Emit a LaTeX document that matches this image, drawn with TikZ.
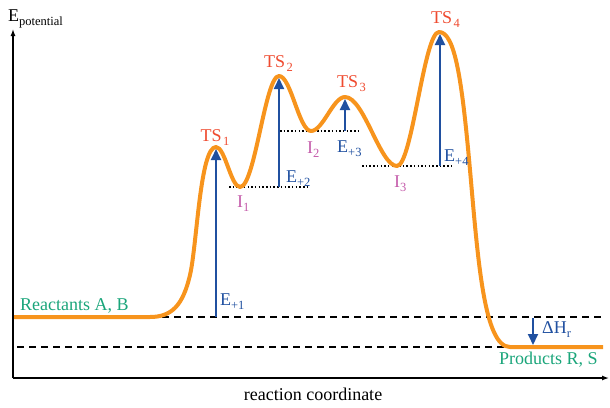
\documentclass[tikz,border=0pt]{standalone}
\usepackage{fontspec}
\setmainfont{Liberation Serif}
\usetikzlibrary{arrows.meta}
\definecolor{curveor}{HTML}{F7941D}
\definecolor{tsred}{HTML}{EF4B30}
\definecolor{imag}{HTML}{C45BAA}
\definecolor{eblue}{HTML}{2050A0}
\definecolor{rgreen}{HTML}{1AA57A}
\newcommand\lowsub[1]{\raisebox{-4.5pt}{\fontsize{12.5}{13}\selectfont #1}}
\begin{document}
\begin{tikzpicture}[x=1pt,y=-1pt,
  lbl/.style={anchor=base west, inner sep=0pt, font=\fontsize{18}{20}\selectfont},
  tslbl/.style={lbl, text=tsred},
  ilbl/.style={lbl, text=imag},
  elbl/.style={lbl, text=eblue},
  splbl/.style={lbl, text=rgreen},
  earrow/.style={draw=eblue, line width=1.8pt, -{Triangle[length=11pt,width=10pt]}},
  axisline/.style={line width=1.3pt, -{Latex[length=7pt,width=5pt]}},
  levelline/.style={line width=1.4pt, dash pattern=on 7pt off 5pt},
  dotline/.style={line width=1.5pt, dash pattern=on 1.5pt off 2.2pt},
  energycurve/.style={draw=curveor, line width=4pt, line join=round}]
\useasboundingbox (0,0) rectangle (610,407);

% key coordinates
\coordinate (origin) at (13,378);
\coordinate (ytop) at (13,29);
\coordinate (xend) at (609,378);
\coordinate (start) at (14,317);
\coordinate (rbase) at (150,317);
\coordinate (ts1) at (216,147);
\coordinate (i1) at (240,187);
\coordinate (ts2) at (279,76);
\coordinate (i2) at (311,131);
\coordinate (ts3) at (345,97);
\coordinate (i3) at (397,166);
\coordinate (ts4) at (439,32);
\coordinate (pend) at (603,347);

% axes
\draw[axisline] (origin) -- (ytop);
\draw[axisline] (origin) -- (xend);

% energy levels
\coordinate (lvlaL) at (150,317);
\coordinate (lvlaR) at (602,317);
\coordinate (lvlbL) at (17,347);
\coordinate (lvlbR) at (602,347);
\draw[levelline] (lvlaL) -- (lvlaR);
\draw[levelline] (lvlbL) -- (lvlbR);

\coordinate (d1L) at (229,187); \coordinate (d1R) at (307,187);
\coordinate (d2L) at (280,131); \coordinate (d2R) at (358,131);
\coordinate (d3L) at (362,166); \coordinate (d3R) at (453,166);
\draw[dotline] (d1L) -- (d1R);
\draw[dotline] (d2L) -- (d2R);
\draw[dotline] (d3L) -- (d3R);

% curve
\draw[energycurve] (start) -- (rbase)
  .. controls (172,317) and (183,305) .. (190,275)
  .. controls (197,245) and (200,147) .. (ts1)
  .. controls (225,147) and (231,187) .. (i1)
  .. controls (255,187) and (265,76) .. (ts2)
  .. controls (291,76) and (299,131) .. (i2)
  .. controls (323,131) and (333,97) .. (ts3)
  .. controls (364,97) and (380,166) .. (i3)
  .. controls (412,166) and (424,32) .. (ts4)
  .. controls (455,32) and (462,80) .. (470,170)
  .. controls (478,260) and (484,347) .. (510,347)
  -- (pend);

% activation arrows
\coordinate (e1b) at (216,317); \coordinate (e1t) at (216,149);
\coordinate (e2b) at (279,187); \coordinate (e2t) at (279,78);
\coordinate (e3b) at (345,131); \coordinate (e3t) at (345,99);
\coordinate (e4b) at (440,166); \coordinate (e4t) at (440,34);
\coordinate (hb) at (533,318); \coordinate (ht) at (533,345);
\draw[earrow] (e1b) -- (e1t);
\draw[earrow] (e2b) -- (e2t);
\draw[earrow] (e3b) -- (e3t);
\draw[earrow] (e4b) -- (e4t);
\draw[earrow] (hb) -- (ht);

% labels
\node[lbl] (ylab) at (8,21) {E\lowsub{potential}};
\node[lbl, anchor=base] (xlab) at (313,400) {reaction coordinate};
\node[tslbl] (lts1) at (200.5,141) {TS\kern1.5pt\lowsub{1}};
\node[tslbl] (lts2) at (264,67) {TS\kern1.5pt\lowsub{2}};
\node[tslbl] (lts3) at (337,87) {TS\kern1.5pt\lowsub{3}};
\node[tslbl] (lts4) at (431,23) {TS\kern1.5pt\lowsub{4}};
\node[ilbl] (li1) at (237,207) {I\lowsub{1}};
\node[ilbl] (li2) at (307,153) {I\lowsub{2}};
\node[ilbl] (li3) at (394,187) {I\lowsub{3}};
\node[elbl] (le1) at (220,305) {E\lowsub{+1}};
\node[elbl] (le2) at (286,182) {E\lowsub{+2}};
\node[elbl] (le3) at (337,152) {E\lowsub{+3}};
\node[elbl] (le4) at (444,161) {E\lowsub{+4}};
\node[elbl] (ldh) at (542,333) {ΔH\lowsub{r}};
\node[splbl] (lreact) at (20,310) {Reactants A, B};
\node[splbl] (lprod) at (499,364) {Products R, S};
\end{tikzpicture}
\end{document}
